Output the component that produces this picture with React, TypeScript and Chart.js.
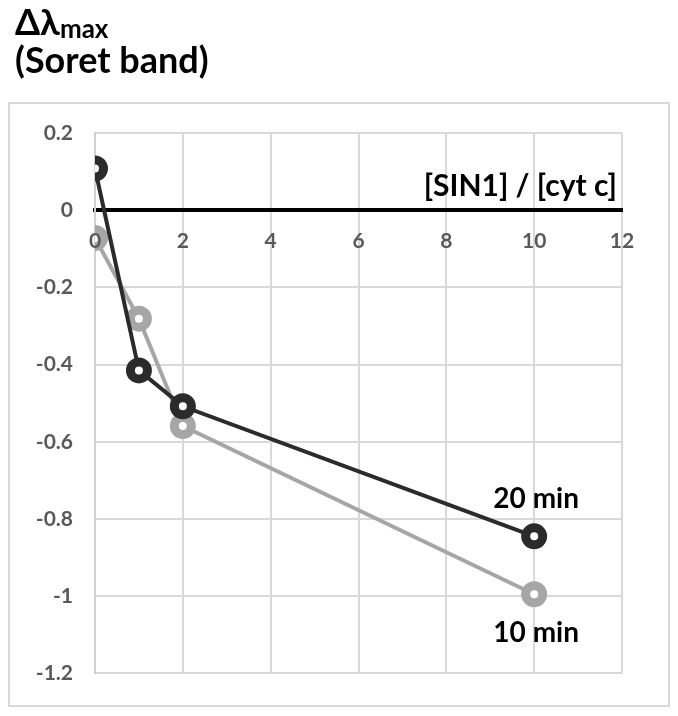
import React, { useEffect, useRef } from "react";
import { Chart, registerables } from "chart.js";

Chart.register(...registerables);

const ratioX = [0, 1, 2, 10];
const shift20min = [0.108, -0.415, -0.508, -0.845];
const shift10min = [-0.072, -0.281, -0.559, -0.995];
const xTicks = [0, 2, 4, 6, 8, 10, 12];
const yTicks = [0.2, 0, -0.2, -0.4, -0.6, -0.8, -1, -1.2];

const FONT = "Lato, 'Open Sans', sans-serif";

const decor = {
  id: "decor",
  beforeDraw(chart: any) {
    const ctx = chart.ctx;
    ctx.save();
    ctx.strokeStyle = "#d9d9d9";
    ctx.lineWidth = 2;
    ctx.strokeRect(1, 95, 660, 603);
    ctx.fillStyle = "#000";
    ctx.textBaseline = "alphabetic";
    ctx.textAlign = "left";
    ctx.font = `bold 36px ${FONT}`;
    ctx.fillText("Δλ", 7, 27);
    const w = ctx.measureText("Δλ").width;
    ctx.font = `bold 26px ${FONT}`;
    ctx.fillText("max", 7 + w, 30);
    ctx.font = `bold 36px ${FONT}`;
    ctx.fillText("(Soret band)", 7, 65);
    ctx.restore();
  },
  afterDatasetsDraw(chart: any) {
    const ctx = chart.ctx;
    const xs = chart.scales.x;
    const ys = chart.scales.y;
    ctx.save();
    ctx.fillStyle = "#595959";
    ctx.font = `bold 21px ${FONT}`;
    ctx.textAlign = "center";
    ctx.textBaseline = "middle";
    const y0 = ys.getPixelForValue(0);
    xs.ticks.forEach((t: any) => {
      ctx.fillText(String(t.value), xs.getPixelForValue(t.value), y0 + 31);
    });
    ctx.restore();
  },
  afterDraw(chart: any) {
    const ctx = chart.ctx;
    const xs = chart.scales.x;
    const ys = chart.scales.y;
    ctx.save();
    ctx.fillStyle = "#000";
    ctx.textBaseline = "alphabetic";
    ctx.font = `bold 30px ${FONT}`;
    ctx.textAlign = "right";
    ctx.fillText("[SIN1] / [cyt c]", 609, 188);
    ctx.font = `bold 28px ${FONT}`;
    ctx.textAlign = "center";
    ctx.fillText("20 min", xs.getPixelForValue(ratioX[3]) + 2, ys.getPixelForValue(shift20min[3]) - 28);
    ctx.fillText("10 min", xs.getPixelForValue(ratioX[3]) + 2, ys.getPixelForValue(shift10min[3]) + 48);
    ctx.restore();
  },
};

export default function App() {
  const ref = useRef<HTMLCanvasElement>(null);
  useEffect(() => {
    if (!ref.current) return;
    const chart = new Chart(ref.current, {
      type: "line",
      data: {
        datasets: [
          {
            label: "20 min",
            data: ratioX.map((x, i) => ({ x, y: shift20min[i] })),
            borderColor: "#2b2b2b",
            borderWidth: 4,
            pointRadius: 8.5,
            pointBorderWidth: 9,
            pointBackgroundColor: "#ffffff",
            pointBorderColor: "#2b2b2b",
            tension: 0,
          },
          {
            label: "10 min",
            data: ratioX.map((x, i) => ({ x, y: shift10min[i] })),
            borderColor: "#a6a6a6",
            borderWidth: 4,
            pointRadius: 8.5,
            pointBorderWidth: 9,
            pointBackgroundColor: "#ffffff",
            pointBorderColor: "#a6a6a6",
            tension: 0,
          },
        ],
      },
      options: {
        animation: false,
        responsive: false,
        layout: { padding: { left: 0, right: 48, top: 125, bottom: 32 } },
        plugins: { legend: { display: false }, tooltip: { enabled: false } },
        scales: {
          x: {
            type: "linear",
            position: { y: 0 },
            min: 0,
            max: 12,
            afterBuildTicks: (s: any) => {
              s.ticks = xTicks.map((v) => ({ value: v }));
            },
            grid: { color: "#d9d9d9", lineWidth: 2, drawTicks: false },
            border: { display: true, color: "#000", width: 4 },
            ticks: { display: false },
          },
          y: {
            type: "linear",
            min: -1.2,
            max: 0.2,
            afterFit: (s: any) => {
              s.width = 87;
            },
            afterBuildTicks: (s: any) => {
              s.ticks = yTicks.map((v) => ({ value: v }));
            },
            grid: { color: "#d9d9d9", lineWidth: 2, drawTicks: false },
            border: { display: true, color: "#d0d0d0", width: 2 },
            ticks: {
              color: "#595959",
              font: { family: FONT, size: 21, weight: "bold" },
              padding: 22,
              callback: (v: any) => String(parseFloat(Number(v).toFixed(1))),
            },
          },
        },
      },
      plugins: [decor],
    });
    return () => chart.destroy();
  }, []);
  return (
    <div style={{ width: 662, height: 700 }}>
      <canvas ref={ref} width={662} height={700} style={{ display: "block" }} />
    </div>
  );
}
